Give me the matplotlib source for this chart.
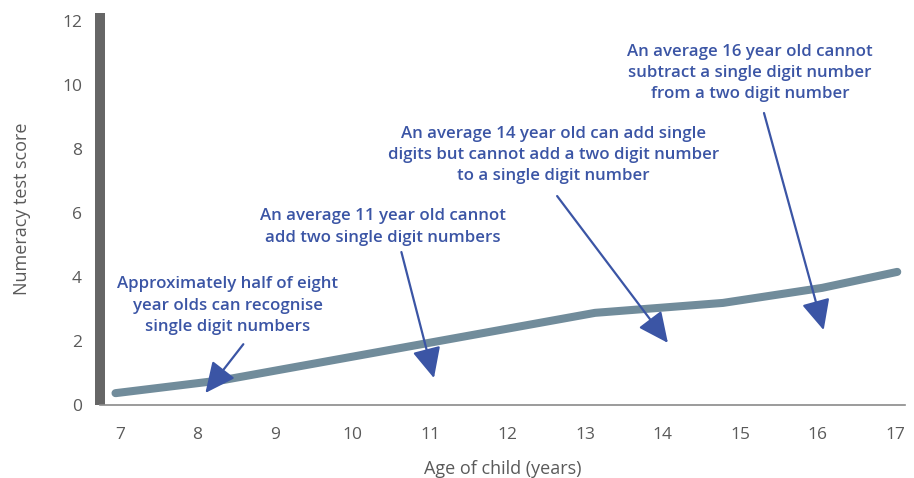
import matplotlib
matplotlib.use("Agg")
import matplotlib.pyplot as plt

# numeracy score by age
ages = [6.94, 8.33, 13.13, 14.78, 16.06, 17.03]
scores = [0.37, 0.78, 2.88, 3.19, 3.66, 4.16]

x_ticks = [7, 8, 9, 10, 11, 12, 13, 14, 15, 16, 17]
y_ticks = [0, 2, 4, 6, 8, 10, 12]

notes = [
    "Approximately half of eight\nyear olds can recognise\nsingle digit numbers",
    "An average 11 year old cannot\nadd two single digit numbers",
    "An average 14 year old can add single\ndigits but cannot add a two digit number\nto a single digit number",
    "An average 16 year old cannot\nsubtract a single digit number\nfrom a two digit number",
]

plt.rcParams['font.family'] = ['Open Sans', 'DejaVu Sans']

line_col = '#718c9b'
note_col = '#3b55a5'
grey = '#5a5a5a'

fig = plt.figure(figsize=(9.14, 4.78), dpi=100)
ax = fig.add_axes([100 / 914, 73 / 478, 805 / 914, 392 / 478])

ax.plot(ages, scores, color=line_col, lw=5.8, solid_capstyle='round', solid_joinstyle='round')

ax.set_xlim(6.74, 17.13)
ax.set_ylim(0, 12.25)
ax.set_xticks(x_ticks)
ax.set_yticks(y_ticks)
ax.tick_params(length=0, labelsize=12.5, labelcolor=grey)
ax.tick_params(axis='x', pad=16)
ax.tick_params(axis='y', pad=13)

for s in ['top', 'right']:
    ax.spines[s].set_visible(False)
ax.spines['left'].set_linewidth(7.2)
ax.spines['left'].set_color('#666666')
ax.spines['left'].set_capstyle('butt')
ax.spines['bottom'].set_linewidth(1.2)
ax.spines['bottom'].set_color('#8a8a8a')

ax.set_xlabel('Age of child (years)', fontsize=13, color=grey, labelpad=12)
ax.set_ylabel('Numeracy test score', fontsize=13, color=grey, labelpad=22)

# annotation text centres, arrow tails and arrow tips
text_xy = [(8.39, 3.1), (10.39, 5.56), (12.59, 7.81), (15.13, 10.375)]
tails = [(8.59, 1.9), (10.63, 4.78), (12.64, 6.53), (15.31, 9.125)]
tips = [(8.10, 0.375), (11.05, 0.84), (14.07, 1.94), (16.08, 2.34)]

for txt, (tx, ty), tail, tip in zip(notes, text_xy, tails, tips):
    ax.text(tx, ty, txt, ha='center', va='center', multialignment='center',
            color=note_col, fontsize=12.2, fontweight='semibold', linespacing=1.45)
    ax.annotate('', xy=tip, xytext=tail,
                arrowprops=dict(arrowstyle='-|>,head_length=0.85,head_width=0.4',
                                color=note_col, lw=1.6, mutation_scale=22,
                                shrinkA=0, shrinkB=0))

fig.savefig('out.png', dpi=100)
